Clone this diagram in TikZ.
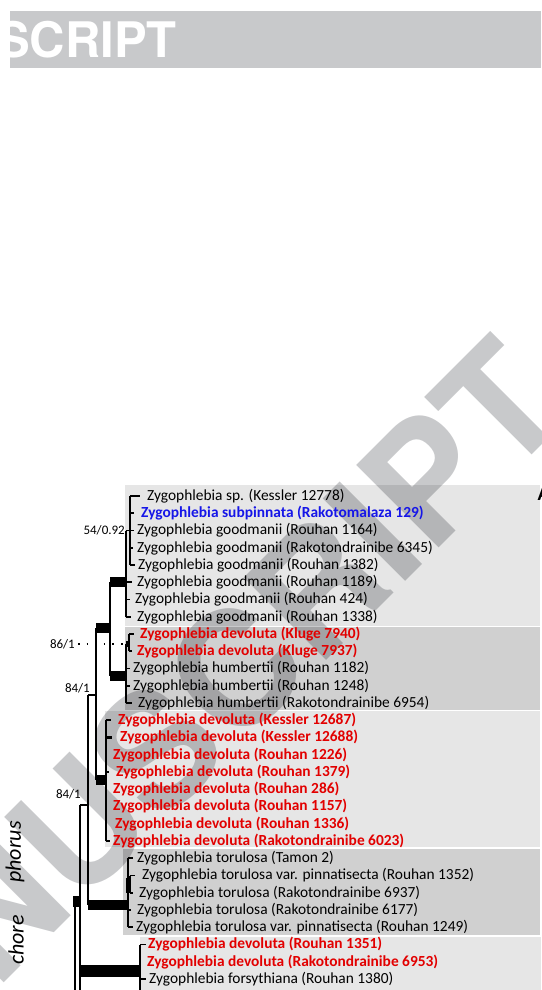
\documentclass[tikz,border=0pt]{standalone}
\usepackage{fontspec}
\setmainfont{Carlito}
\newfontfamily\helvfont{TeX Gyre Heros}
\usepackage{xcolor}

\definecolor{bannergray}{HTML}{C8C9CB}
\definecolor{boxlight}{HTML}{E6E6E6}
\definecolor{boxdark}{HTML}{D0D0D0}
\definecolor{taxred}{HTML}{E20000}
\definecolor{taxblue}{HTML}{1616E8}

\begin{document}
\begin{tikzpicture}[x=1pt,y=-1pt,
  leaf/.style={anchor=west,inner sep=0pt,font=\fontsize{15.4}{16}\selectfont},
  redleaf/.style={leaf,text=taxred,font=\fontsize{15.4}{16}\selectfont\bfseries},
  blueleaf/.style={leaf,text=taxblue,font=\fontsize{15.4}{16}\selectfont\bfseries},
  support/.style={inner sep=1pt,font=\fontsize{13}{14}\selectfont},
  br/.style={line width=1.6pt},
  bar/.style={line width=10pt},
  side/.style={rotate=90,inner sep=0pt,font=\fontsize{22}{24}\selectfont\itshape}]
\useasboundingbox (0,0) rectangle (541,990);
\clip (0,0) rectangle (541,990);

% banner
\fill[bannergray] (10,11) rectangle (541,68);
\node[anchor=base west,inner sep=0pt,text=white,font=\helvfont\fontsize{49}{50}\selectfont\bfseries] (banner) at (-3,57) {SCRIPT};

% clade boxes
\fill[boxlight] (125,485) rectangle (540,625.5);
\fill[boxdark] (125,627) rectangle (540,709.5);
\fill[boxlight] (105,711) rectangle (540,847);
\fill[boxdark] (123,848.5) rectangle (540,935);
\fill[boxlight] (140,936.5) rectangle (541,990);

% watermark
\begin{scope}[blend mode=multiply]
\node[rotate=45,anchor=base east,inner sep=0pt,text=bannergray,font=\helvfont\fontsize{160}{160}\selectfont\bfseries] (wmark) at (575,412) {MANUSCRIPT};
\end{scope}

% taxa
\node[leaf] (r1) at (147,496) {Zygophlebia sp. (Kessler 12778)};
\node[blueleaf] (r2) at (141,513.25) {Zygophlebia subpinnata (Rakotomalaza 129)};
\node[leaf] (r3) at (137,530.5) {Zygophlebia goodmanii (Rouhan 1164)};
\node[leaf] (r4) at (137,547.75) {Zygophlebia goodmanii (Rakotondrainibe 6345)};
\node[leaf] (r5) at (138,565) {Zygophlebia goodmanii (Rouhan 1382)};
\node[leaf] (r6) at (137,582.25) {Zygophlebia goodmanii (Rouhan 1189)};
\node[leaf] (r7) at (135,599.5) {Zygophlebia goodmanii (Rouhan 424)};
\node[leaf] (r8) at (137,616.75) {Zygophlebia goodmanii (Rouhan 1338)};

\node[redleaf] (r9) at (140,634) {Zygophlebia devoluta (Kluge 7940)};
\node[redleaf] (r10) at (137,651.25) {Zygophlebia devoluta (Kluge 7937)};
\node[leaf] (r11) at (133,668.5) {Zygophlebia humbertii (Rouhan 1182)};
\node[leaf] (r12) at (133,685.75) {Zygophlebia humbertii (Rouhan 1248)};
\node[leaf] (r13) at (138,703) {Zygophlebia humbertii (Rakotondrainibe 6954)};

\node[redleaf] (r14) at (118,720.25) {Zygophlebia devoluta (Kessler 12687)};
\node[redleaf] (r15) at (120,737.5) {Zygophlebia devoluta (Kessler 12688)};
\node[redleaf] (r16) at (113,754.75) {Zygophlebia devoluta (Rouhan 1226)};
\node[redleaf] (r17) at (116,772) {Zygophlebia devoluta (Rouhan 1379)};
\node[redleaf] (r18) at (113,789.25) {Zygophlebia devoluta (Rouhan 286)};
\node[redleaf] (r19) at (113,806.5) {Zygophlebia devoluta (Rouhan 1157)};
\node[redleaf] (r20) at (115,823.75) {Zygophlebia devoluta (Rouhan 1336)};
\node[redleaf] (r21) at (113,841) {Zygophlebia devoluta (Rakotondrainibe 6023)};

\node[leaf] (r22) at (137,858.25) {Zygophlebia torulosa (Tamon 2)};
\node[leaf] (r23) at (142,875.5) {Zygophlebia torulosa var. pinnatisecta (Rouhan 1352)};
\node[leaf] (r24) at (139,892.75) {Zygophlebia torulosa (Rakotondrainibe 6937)};
\node[leaf] (r25) at (137,910) {Zygophlebia torulosa (Rakotondrainibe 6177)};
\node[leaf] (r26) at (136,927.25) {Zygophlebia torulosa var. pinnatisecta (Rouhan 1249)};

\node[redleaf] (r27) at (148,944.5) {Zygophlebia devoluta (Rouhan 1351)};
\node[redleaf] (r28) at (147,961.75) {Zygophlebia devoluta (Rakotondrainibe 6953)};
\node[leaf] (r29) at (149,979) {Zygophlebia forsythiana (Rouhan 1380)};

\node[anchor=west,inner sep=0pt,font=\fontsize{20}{20}\selectfont\bfseries] (panel) at (537.5,494) {A};

% side labels
\node[side] (phorus) at (15,852) {phorus};
\node[side] (chore) at (16,940) {chore};

% internal nodes
\coordinate (goodA) at (130,496);
\coordinate (good) at (126,530.5);
\coordinate (kluge) at (129,634);
\coordinate (humb) at (126,644);
\coordinate (nA) at (110,582);
\coordinate (devA) at (106,720.25);
\coordinate (nB) at (96,628);
\coordinate (nC) at (88,695);
\coordinate (toru) at (128,858.25);
\coordinate (toruA) at (130,875.5);
\coordinate (nD) at (80,805);
\coordinate (fors) at (140,944.5);
\coordinate (nE) at (75,901);

% goodmanii
\draw[br] (goodA) -- (goodA |- r5);
\draw[line width=2.4pt] (goodA) -- ++(10,0);
\draw[br] (goodA |- r2) -- ++(4,0);
\draw[br] (goodA |- r3) -- ++(4,0);
\draw[br] (goodA |- r4) -- ++(3,0);
\draw[br] (goodA |- r5) -- ++(5,0);
\draw[br] (good) -- (good |- r8);
\draw[br] (good) -- (goodA |- good);
\draw[br] (good |- r6) -- ++(6,0);
\draw[br] (good |- r7) -- ++(4,0);
\draw[br] (good |- r8) -- ++(5,0);
\node[support,anchor=east] (s1) at (good) {54/0.92};

% Kluge + humbertii
\draw[br] (kluge) -- (kluge |- r10);
\draw[line width=2.4pt] (kluge) -- ++(5,0);
\draw[br] (kluge |- r10) -- ++(3,0);
\draw[line width=6pt] (humb) -- (kluge |- humb);
\draw[br] (humb) -- (humb |- r13);
\draw[br] (humb |- r11) -- ++(4,0);
\draw[br] (humb |- r12) -- ++(4,0);
\draw[br] (humb |- r13) -- ++(6,0);
\draw[line width=1.6pt,dash pattern=on 1.6pt off 7pt] (78,644) -- (humb);
\node[support,anchor=east] (s2) at (76,644) {86/1};

% node A
\draw[br] (nA) -- (nA |- 0,676);
\draw[bar] (nA) -- (good |- nA);
\draw[bar] (nA |- 0,676) -- (humb |- 0,676);

% devoluta
\draw[br] (devA) -- (devA |- r21);
\draw[line width=2.4pt] (devA) -- ++(5,0);
\draw[line width=2.4pt] (devA |- r15) -- ++(6,0);
\draw[br] (devA |- r17) -- ++(3,0);
\draw[br] (devA |- r21) -- ++(4,0);

% node B
\draw[br] (nB) -- (nB |- 0,780);
\draw[bar] (nB) -- (nA |- nB);
\draw[bar] (nB |- 0,780) -- (devA |- 0,780);

% node C
\draw[br] (nC) -- (nC |- 0,905);
\draw[br] (nC) -- (nB |- nC);
\node[support,anchor=south east] (s3) at (91,694) {84/1};

% torulosa
\draw[br] (toru) -- (toru |- r26);
\draw[br] (toru) -- ++(5,0);
\draw[br] (toru |- r25) -- ++(3,0);
\draw[br] (toru |- r26) -- ++(5,0);
\draw[br] (toruA) -- (toruA |- r24);
\draw[br] (toruA) -- ++(5,0);
\draw[br] (toruA |- r24) -- ++(3,0);
\draw[line width=4pt] (128,878) -- (128,893);
\draw[bar] (nC |- 0,905) -- (toru |- 0,905);

% node D
\draw[br] (nD) -- (nD |- 0,995);
\draw[br] (nD) -- (nC |- nD);
\node[support,anchor=south east] (s4) at (82,800) {84/1};

% forsythiana
\draw[br] (fors) -- (fors |- 0,995);
\draw[br] (fors) -- ++(6,0);
\draw[br] (fors |- r29) -- ++(6,0);
\draw[line width=12pt] (nD |- 0,971) -- (fors |- 0,971);

% node E
\draw[br] (nE) -- (nE |- 0,995);
\draw[line width=11pt] (73,901) -- (nD |- nE);
\end{tikzpicture}
\end{document}
